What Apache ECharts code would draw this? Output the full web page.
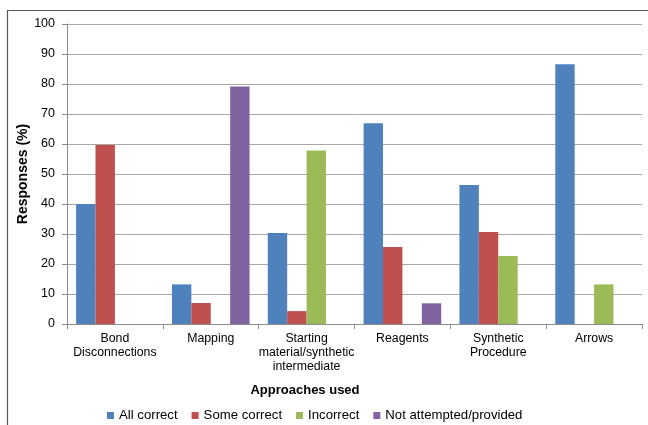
<!DOCTYPE html>
<html>
<head>
<meta charset="utf-8">
<script src="https://cdn.jsdelivr.net/npm/echarts@6/dist/echarts.min.js"></script>
<style>
html,body{margin:0;padding:0;background:#fff;}
#chart{width:648px;height:425px;}
</style>
</head>
<body>
<div id="chart"></div>
<script>
const categories = ['Bond\nDisconnections', 'Mapping', 'Starting\nmaterial/synthetic\nintermediate', 'Reagents', 'Synthetic\nProcedure', 'Arrows'];
const allCorrect = [40, 13.2, 30.3, 66.9, 46.3, 86.6];
const someCorrect = [59.7, 7, 4.3, 25.7, 30.7, null];
const incorrect = [null, null, 57.8, null, 22.7, 13.2];
const notAttempted = [null, 79.2, null, 6.9, null, null];
const seriesNames = ['All correct', 'Some correct', 'Incorrect', 'Not attempted/provided'];
const seriesColors = ['#4F81BD', '#C0504D', '#9BBB59', '#8064A2'];
const yTicks = { min: 0, max: 100, interval: 10 };

const chart = echarts.init(document.getElementById('chart'), null, { renderer: 'canvas' });
const font = 'Arial, "Liberation Sans", sans-serif';
const dataSets = [allCorrect, someCorrect, incorrect, notAttempted];

chart.setOption({
  animation: false,
  textStyle: { fontFamily: font },
  grid: { left: 67, right: 6, top: 24, bottom: 101, containLabel: false },
  legend: {
    data: seriesNames,
    left: 102,
    top: 404,
    itemWidth: 7,
    itemHeight: 7,
    itemGap: 14,
    icon: 'rect',
    textStyle: { fontFamily: font, fontSize: 13.2, color: '#000' }
  },
  xAxis: {
    type: 'category',
    data: categories,
    axisLine: { lineStyle: { color: '#8c8c8c', width: 1 } },
    axisTick: { show: true, length: 5, lineStyle: { color: '#8c8c8c' } },
    axisLabel: { fontFamily: font, fontSize: 12.3, color: '#000', margin: 8, lineHeight: 14, interval: 0 }
  },
  yAxis: {
    type: 'value',
    min: yTicks.min, max: yTicks.max, interval: yTicks.interval,
    axisLine: { show: true, lineStyle: { color: '#8c8c8c', width: 1 } },
    axisTick: { show: true, length: 5, lineStyle: { color: '#8c8c8c' } },
    splitLine: { lineStyle: { color: '#a8a8a8', width: 1 } },
    axisLabel: { fontFamily: font, fontSize: 12.5, color: '#000', margin: 12 }
  },
  series: dataSets.map((d, i) => ({
    name: seriesNames[i],
    type: 'bar',
    data: d,
    barGap: '0%',
    barCategoryGap: '19%',
    itemStyle: { color: seriesColors[i] }
  })),
  graphic: [
    {
      type: 'polyline',
      shape: { points: [[7.5, 425], [7.5, 10.5], [648, 10.5]] },
      style: { stroke: '#555', lineWidth: 1.2, fill: null }
    },
    {
      type: 'text',
      x: 305, y: 390,
      style: { text: 'Approaches used', font: 'bold 13px ' + font, fill: '#000', textAlign: 'center', textVerticalAlign: 'middle' }
    },
    {
      type: 'text',
      x: 23, y: 174,
      rotation: Math.PI / 2,
      style: { text: 'Responses (%)', font: 'bold 14px ' + font, fill: '#000', textAlign: 'center', textVerticalAlign: 'middle' }
    }
  ]
});
</script>
</body>
</html>
